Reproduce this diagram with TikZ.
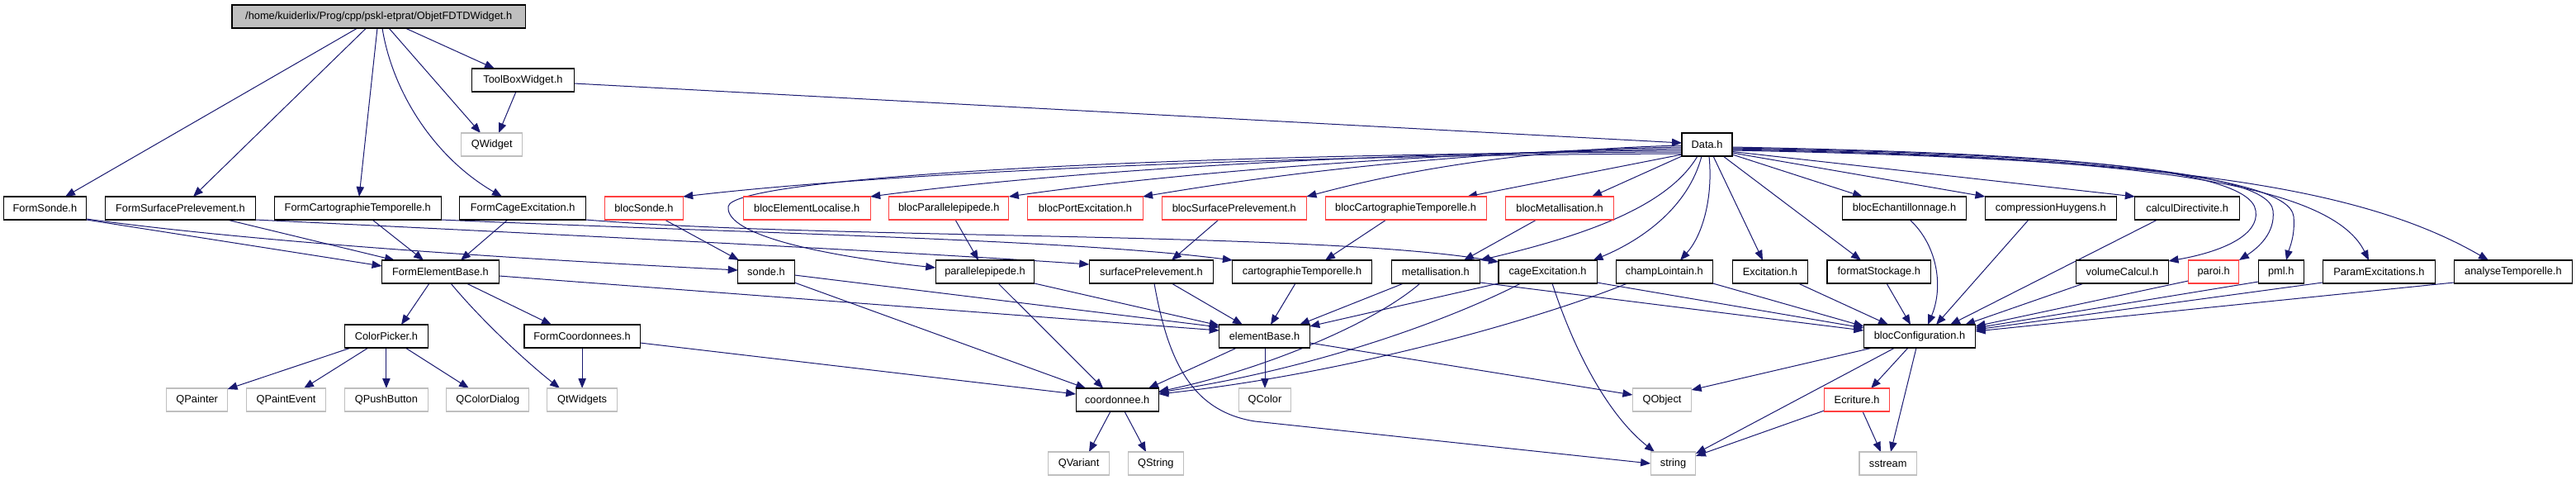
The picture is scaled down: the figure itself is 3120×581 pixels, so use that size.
\documentclass[tikz,border=0pt]{standalone}
\usepackage{fontspec}
\setmainfont{Liberation Sans}
\usetikzlibrary{arrows.meta}
\definecolor{eblue}{HTML}{191970}
\definecolor{nred}{HTML}{FF4040}
\definecolor{ngray}{HTML}{BFBFBF}
\pgfdeclarelayer{bg}
\pgfsetlayers{bg,main}
\begin{document}
\begin{tikzpicture}[x=0.75pt,y=-0.75pt,
  box/.style={rectangle, inner sep=0pt, minimum height=21pt, font=\fontsize{9.6}{11}\selectfont, line width=0.8pt, fill=white},
  nb/.style={box, draw=black},
  nr/.style={box, draw=nred},
  ng/.style={box, draw=ngray},
  nroot/.style={box, draw=black, fill=ngray},
  wd/.style={minimum width=#1*0.75pt},
  dep/.style={draw=eblue, line width=0.75pt, -{Triangle[length=9pt,width=7pt]}}]
\useasboundingbox (0,0) rectangle (3120,581);
% row 0-1
\node[nroot, wd=355.4] (root) at (458.7,20) {/home/kuiderlix/Prog/cpp/pskl-etprat/ObjetFDTDWidget.h};
\node[nb, wd=123.3] (tbw) at (633.4,97) {ToolBoxWidget.h};
\node[ng, wd=73.7] (qwidget) at (595.7,175) {QWidget};
\node[nb, wd=61] (data) at (2067.5,175) {Data.h};
% row 2
\node[nb, wd=100.6] (fsonde) at (54.4,252) {FormSonde.h};
\node[nb, wd=181.9] (fsurf) at (218.4,252) {FormSurfacePrelevement.h};
\node[nb, wd=201.9] (fcarto) at (433.3,252) {FormCartographieTemporelle.h};
\node[nb, wd=152.5] (fcage) at (633.2,252) {FormCageExcitation.h};
\node[nr, wd=94.7] (bsonde) at (779.9,252) {blocSonde.h};
\node[nr, wd=154] (belem) at (977.2,252) {blocElementLocalise.h};
\node[nr, wd=145.3] (bpara) at (1149.2,252) {blocParallelepipede.h};
\node[nr, wd=139.2] (bport) at (1314.5,252) {blocPortExcitation.h};
\node[nr, wd=175.3] (bsurf) at (1494.8,252) {blocSurfacePrelevement.h};
\node[nr, wd=195] (bcarto) at (1702.6,252) {blocCartographieTemporelle.h};
\node[nr, wd=131.2] (bmetal) at (1889.1,252) {blocMetallisation.h};
\node[nb, wd=149.9] (bechant) at (2306.5,252) {blocEchantillonnage.h};
\node[nb, wd=158.8] (huyg) at (2483.8,252) {compressionHuygens.h};
\node[nb, wd=126.7] (cdir) at (2649.2,252) {calculDirectivite.h};
% row 3
\node[nb, wd=141.9] (feb) at (533.5,329) {FormElementBase.h};
\node[nb, wd=68.5] (sonde) at (928,329) {sonde.h};
\node[nb, wd=119.5] (para) at (1193,329) {parallelepipede.h};
\node[nb, wd=150.2] (surf) at (1394.4,329) {surfacePrelevement.h};
\node[nb, wd=168.4] (carto) at (1577.1,329) {cartographieTemporelle.h};
\node[nb, wd=107.5] (metal) at (1738.8,329) {metallisation.h};
\node[nb, wd=119.1] (cage) at (1874.5,329) {cageExcitation.h};
\node[nb, wd=117.4] (champ) at (2015.8,329) {champLointain.h};
\node[nb, wd=91.2] (excit) at (2143.9,329) {Excitation.h};
\node[nb, wd=125.7] (fmt) at (2275.8,329) {formatStockage.h};
\node[nb, wd=112.2] (vol) at (2570.4,329) {volumeCalcul.h};
\node[nr, wd=61.6] (paroi) at (2681.1,329) {paroi.h};
\node[nb, wd=54.8] (pml) at (2762.7,329) {pml.h};
\node[nb, wd=136.4] (pexc) at (2881.4,329) {ParamExcitations.h};
\node[nb, wd=143.2] (anat) at (3043.9,329) {analyseTemporelle.h};
% row 4
\node[nb, wd=101.6] (cpick) at (467.9,407) {ColorPicker.h};
\node[nb, wd=140.2] (fcoord) at (705.1,407) {FormCoordonnees.h};
\node[nb, wd=109.5] (ebase) at (1531.5,407) {elementBase.h};
\node[nb, wd=135.3] (bconf) at (2325,407) {blocConfiguration.h};
% row 5
\node[ng, wd=73.7] (qpainter) at (238.7,484) {QPainter};
\node[ng, wd=96.5] (qpev) at (346.5,484) {QPaintEvent};
\node[ng, wd=100.9] (qpush) at (467.9,484) {QPushButton};
\node[ng, wd=100.2] (qcdlg) at (590.8,484) {QColorDialog};
\node[ng, wd=84.4] (qtw) at (705.1,484) {QtWidgets};
\node[nb, wd=100.2] (coord) at (1353.2,484) {coordonnee.h};
\node[ng, wd=63] (qcolor) at (1532,484) {QColor};
\node[ng, wd=71.3] (qobj) at (2013,484) {QObject};
\node[nr, wd=79.2] (ecr) at (2249.1,484) {Ecriture.h};
% row 6
\node[ng, wd=73.7] (qvar) at (1306.6,561) {QVariant};
\node[ng, wd=66.8] (qstr) at (1399.9,561) {QString};
\node[ng, wd=54.8] (strg) at (2026.5,561) {string};
\node[ng, wd=69.5] (sstream) at (2286.7,561) {sstream};

\begin{pgfonlayer}{bg}
% straight connectors
\foreach \a/\ax/\ay/\b/\bx/\by in {
 root/-25.7/14/fsonde/24.6/-14, root/-15.1/14/fsurf/15.6/-14, root/-1.7/14/fcarto/1.7/-14,
 root/12.3/14/qwidget/-13.7/-14, root/32.1/14/tbw/-34.4/-14,
 tbw/-8.4/14/qwidget/8.3/-14, tbw/61.65/4/data/-30.5/-2,
 data/-30.5/12/bcarto/74.4/-14, data/-30.5/14/bmetal/38.9/-14,
 data/30.5/12/bechant/-50.5/-14, data/30.5/10/huyg/-79.4/-14, data/30.5/8.5/cdir/-63.35/-14,
 data/7.5/14/excit/-8.9/-14, data/19.5/14/fmt/-21.8/-14,
 fsonde/50.3/14/feb/-70.95/-7, fsurf/56.6/14/feb/-55.5/-14, fcarto/17.7/14/feb/-20.5/-14,
 fcage/-18.2/14/feb/24.5/-14, bsonde/25.1/14/sonde/-33/-14, bpara/7.8/14/para/-8/-14,
 bsurf/-18.8/14/surf/24.6/-14, bcarto/-23.6/14/carto/27.9/-14, bmetal/-28.1/14/metal/34.2/-14,
 huyg/-26.8/14/bconf/20/-14, cdir/-36.2/14/bconf/37/-14,
 feb/-13.5/14/cpick/18.1/-14, feb/31.5/14/fcoord/-37.1/-14, feb/70.95/5/ebase/-54.75/-7,
 sonde/34.25/4/ebase/-54.75/-11, sonde/34.25/13/coord/-38/-14,
 para/59.75/14/ebase/-54.75/-13, para/16/14/coord/-17/-14, surf/24.6/14/ebase/-26.5/-14,
 carto/-8.1/14/ebase/7.5/-14, metal/-38.8/14/ebase/42.5/-14, metal/53.75/13/bconf/-67.65/-7,
 cage/-59.55/14/ebase/54.75/-12, cage/59.55/13/bconf/-67.65/-10, champ/58.7/14/bconf/-67.65/-12,
 excit/34.1/14/bconf/-38/-14, fmt/9.2/14/bconf/-11/-14, vol/-46.4/14/bconf/55/-14,
 paroi/-30.8/11/bconf/67.65/-12, pml/-27.4/12/bconf/67.65/-10, pexc/-68.2/13/bconf/67.65/-8,
 anat/-71.6/13/bconf/67.65/-6,
 cpick/-42.9/14/qpainter/36.85/-13, cpick/-21.9/14/qpev/21.5/-14, cpick/0/14/qpush/0/-14,
 cpick/23.1/14/qcdlg/-22.8/-14, fcoord/0/14/qtw/0/-14, fcoord/70.1/8/coord/-50.1/-7,
 ebase/-33.5/14/coord/37.8/-14, ebase/0.5/14/qcolor/0/-14, ebase/54.75/8/qobj/-35.65/-6,
 bconf/-57/14/qobj/35.65/-12, bconf/-14/14/ecr/17/-14, bconf/-30/14/strg/27.4/-12,
 bconf/-4/14/sstream/3.3/-14, coord/-8.2/14/qvar/12.4/-14, coord/8.8/14/qstr/-11.9/-14,
 ecr/6.9/14/sstream/-8.7/-14, ecr/-39.6/13/strg/27.4/-9}
 \draw[dep] ([shift={(\ax,\ay)}]\a.center) -- ([shift={(\bx,\by)}]\b.center);
% curved connectors
\draw[dep] ([shift={(4.3,14)}]root.center) .. controls (475,110) and (525,190) .. ([shift={(-25.2,-14)}]fcage.center);
\draw[dep] ([shift={(-30.5,11)}]data.center) .. controls (1500,188) and (1050,212) .. ([shift={(47.35,-14)}]bsonde.center);
\draw[dep] ([shift={(-30.5,9)}]data.center) .. controls (1400,186) and (886,215) .. (882,250) .. controls (878,285) and (1000,310) .. ([shift={(-59.75,-5)}]para.center);
\draw[dep] ([shift={(-30.5,7)}]data.center) .. controls (1600,185) and (1250,212) .. ([shift={(77,-14)}]belem.center);
\draw[dep] ([shift={(-30.5,5)}]data.center) .. controls (1700,184) and (1380,215) .. ([shift={(72.65,-14)}]bpara.center);
\draw[dep] ([shift={(-30.5,3)}]data.center) .. controls (1750,183) and (1520,215) .. ([shift={(69.6,-14)}]bport.center);
\draw[dep] ([shift={(-30.5,1)}]data.center) .. controls (1800,182) and (1650,220) .. ([shift={(87.65,-14)}]bsurf.center);
\draw[dep] ([shift={(-11.5,14)}]data.center) .. controls (2020,250) and (1920,285) .. ([shift={(53.75,-14)}]metal.center);
\draw[dep] ([shift={(-6.5,14)}]data.center) .. controls (2045,250) and (1990,290) .. ([shift={(55,-14)}]cage.center);
\draw[dep] ([shift={(2.5,14)}]data.center) .. controls (2075,240) and (2062,285) .. ([shift={(19.2,-14)}]champ.center);
\draw[dep] ([shift={(30.5,3)}]data.center) .. controls (2450,185) and (2725,200) .. (2732,255) .. controls (2737,285) and (2690,305) .. ([shift={(56.1,-13)}]vol.center);
\draw[dep] ([shift={(30.5,4)}]data.center) .. controls (2480,186) and (2748,205) .. (2753,255) .. controls (2756,282) and (2735,300) .. ([shift={(30.8,-14)}]paroi.center);
\draw[dep] ([shift={(30.5,5)}]data.center) .. controls (2500,188) and (2772,210) .. (2778,262) .. controls (2780,285) and (2773,300) .. ([shift={(6.3,-14)}]pml.center);
\draw[dep] ([shift={(30.5,6)}]data.center) .. controls (2550,190) and (2820,215) .. ([shift={(-12.4,-14)}]pexc.center);
\draw[dep] ([shift={(30.5,7)}]data.center) .. controls (2600,192) and (2850,220) .. ([shift={(-29.9,-14)}]anat.center);
\draw[dep] ([shift={(50.3,13)}]fsonde.center) .. controls (300,292) and (600,312) .. ([shift={(-34.25,-2)}]sonde.center);
\draw[dep] ([shift={(90.95,14)}]fsurf.center) .. controls (700,285) and (1100,305) .. ([shift={(-75.1,-9)}]surf.center);
\draw[dep] ([shift={(100.95,14)}]fcarto.center) .. controls (900,282) and (1300,290) .. ([shift={(-84.2,-14)}]carto.center);
\draw[dep] ([shift={(76.25,14)}]fcage.center) .. controls (1000,290) and (1600,280) .. ([shift={(-59.55,-12)}]cage.center);
\draw[dep] ([shift={(6.5,14)}]bechant.center) .. controls (2345,295) and (2355,345) .. ([shift={(10,-14)}]bconf.center);
\draw[dep] ([shift={(12.5,14)}]feb.center) .. controls (585,390) and (640,440) .. ([shift={(-27.1,-14)}]qtw.center);
\draw[dep] ([shift={(3.6,14)}]surf.center) .. controls (1415,440) and (1445,498) .. (1520,510) -- ([shift={(-27.4,0)}]strg.center);
\draw[dep] ([shift={(-18.8,14)}]metal.center) .. controls (1660,395) and (1520,450) .. ([shift={(50.1,-10)}]coord.center);
\draw[dep] ([shift={(-32.5,14)}]cage.center) .. controls (1760,385) and (1600,445) .. ([shift={(50.1,-9)}]coord.center);
\draw[dep] ([shift={(5.5,14)}]cage.center) .. controls (1905,420) and (1945,500) .. ([shift={(-22.5,-14)}]strg.center);
\draw[dep] ([shift={(-44.8,14)}]champ.center) .. controls (1880,380) and (1650,450) .. ([shift={(50.1,-7)}]coord.center);
\end{pgfonlayer}
\end{tikzpicture}
\end{document}
